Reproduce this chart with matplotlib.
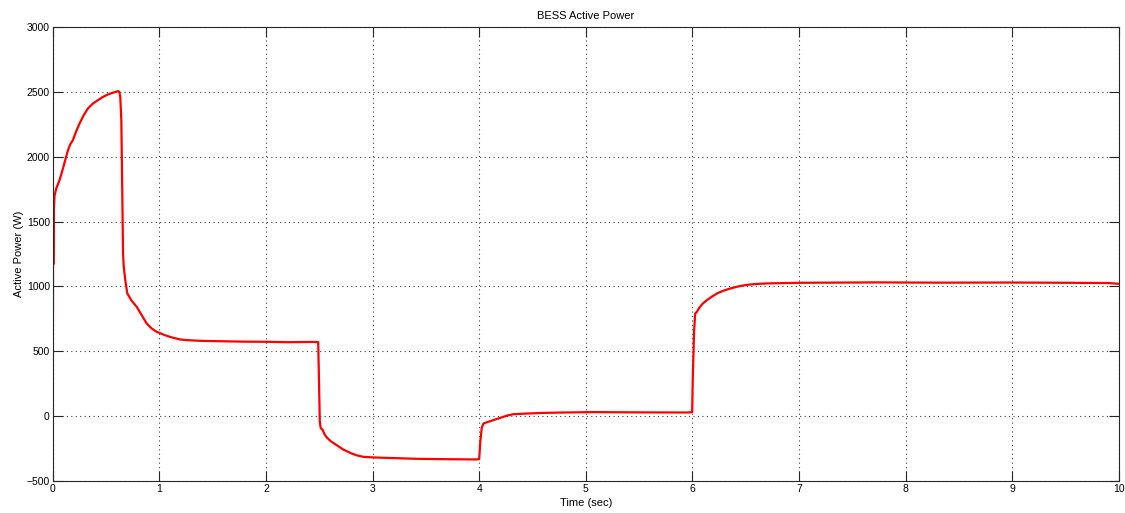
import numpy as np
import matplotlib.pyplot as plt

# BESS active power
time_s = [0.0, 0.002, 0.004, 0.006, 0.009, 0.012, 0.018, 0.034, 0.065, 0.097,
          0.12, 0.144, 0.165, 0.19, 0.22, 0.253, 0.29, 0.331, 0.375, 0.425,
          0.47, 0.519, 0.565, 0.613, 0.625, 0.634,
          0.644, 0.653, 0.66, 0.667, 0.681, 0.70, 0.74, 0.788, 0.83, 0.881,
          0.93, 0.976, 1.04, 1.1, 1.194, 1.257, 1.4, 1.538, 1.8, 2.008,
          2.2, 2.445, 2.49, 2.497, 2.505, 2.513, 2.533, 2.55, 2.57, 2.61,
          2.664, 2.72, 2.789, 2.85, 2.914, 3.0, 3.1, 3.414, 3.7,
          3.977, 4.0, 4.01, 4.024, 4.04, 4.08, 4.133, 4.18, 4.227, 4.27,
          4.321, 4.45, 4.603, 4.8, 5.071, 5.5, 5.947, 5.997, 6.003, 6.015,
          6.025, 6.041, 6.07, 6.1, 6.135, 6.18, 6.23, 6.29, 6.355, 6.43,
          6.51, 6.6, 6.698, 7.01, 7.73, 8.3, 9.0, 9.5, 9.9, 10.0]
power_w = [0, 300, 1650, 1170, 1690, 1600, 1700, 1755, 1820, 1910,
           1980, 2051, 2095, 2128, 2195, 2257, 2318, 2372, 2408, 2436,
           2460, 2480, 2493, 2506, 2500, 2462,
           2282, 1719, 1257, 1150, 1049, 946, 890, 843, 785, 715,
           675, 650, 628, 611, 591, 586, 580, 578, 574, 573,
           570, 572, 570, 300, -40, -90, -108, -140, -164, -195,
           -224, -255, -283, -302, -314, -318, -321, -329, -332,
           -334, -330, -200, -90, -57, -45, -31, -18, -5, 6,
           15, 20, 25, 28, 31, 29, 28, 30, 300, 650,
           790, 804, 843, 870, 894, 920, 946, 967, 984, 1000,
           1012, 1019, 1023, 1028, 1031, 1029, 1030, 1028, 1026, 1020]

x_ticks = np.arange(0, 11, 1)
y_ticks = np.arange(-500, 3001, 500)

plt.rcParams['font.family'] = ['Liberation Sans', 'DejaVu Sans']

fig = plt.figure(figsize=(11.25, 5.13), dpi=100)
ax = fig.add_axes([0.0468, 0.0624, 0.9479, 0.885])

ax.plot(time_s, power_w, color='#ff0000', linewidth=1.6)

ax.set_xlim(0, 10)
ax.set_ylim(-500, 3000)
ax.set_xticks(x_ticks)
ax.set_yticks(y_ticks)
ax.grid(True, linestyle=(0, (1, 3)), color='#404040', linewidth=0.8)
ax.tick_params(direction='in', length=7.5, width=0.8, labelsize=7.5,
               top=True, right=True, color='#262626', pad=2)
for s in ax.spines.values():
    s.set_color('#262626')
    s.set_linewidth(0.8)

ax.set_title("BESS Active Power", fontsize=8, pad=6)
ax.set_xlabel("Time (sec)", fontsize=8, labelpad=3)
ax.set_ylabel("Active Power (W)", fontsize=8, labelpad=2)

fig.savefig("out.png", dpi=100)
